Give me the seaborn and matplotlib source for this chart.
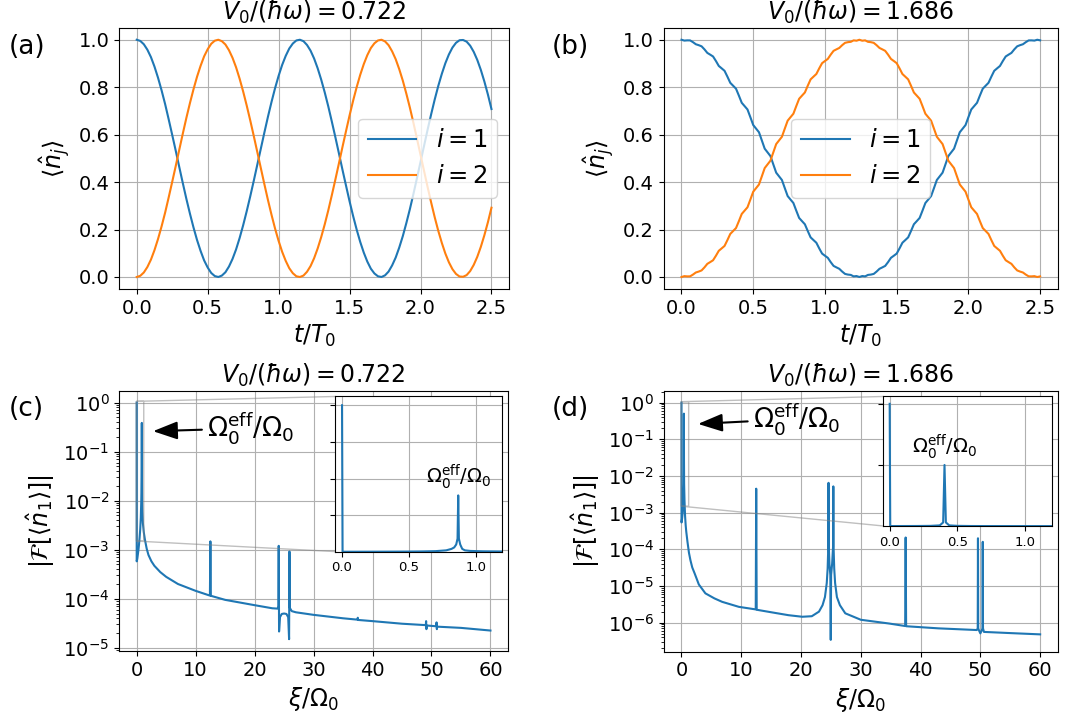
import numpy as np
import matplotlib
matplotlib.use("Agg")
import matplotlib.pyplot as plt
import seaborn as sns
from matplotlib.ticker import LogLocator, NullFormatter

# ---------------- occupations vs time ----------------
t_a = np.linspace(0.0, 2.5, 101)
n1_a = [1.000, 0.995, 0.981, 0.958, 0.927, 0.887, 0.840, 0.787, 0.729, 0.665,
        0.599, 0.532, 0.463, 0.395, 0.329, 0.267, 0.209, 0.156, 0.110, 0.070,
        0.040, 0.017, 0.004, 0.000, 0.006, 0.020, 0.044, 0.076, 0.116, 0.164,
        0.218, 0.277, 0.340, 0.406, 0.474, 0.542, 0.610, 0.676, 0.738, 0.796,
        0.848, 0.894, 0.932, 0.963, 0.984, 0.997, 1.000, 0.994, 0.978, 0.954,
        0.921, 0.880, 0.832, 0.778, 0.719, 0.655, 0.589, 0.521, 0.452, 0.385,
        0.319, 0.257, 0.200, 0.148, 0.103, 0.065, 0.035, 0.015, 0.003, 0.000,
        0.007, 0.023, 0.049, 0.082, 0.124, 0.172, 0.227, 0.286, 0.350, 0.417,
        0.485, 0.553, 0.621, 0.686, 0.748, 0.805, 0.856, 0.901, 0.938, 0.967,
        0.987, 0.998, 0.999, 0.992, 0.975, 0.949, 0.915, 0.873, 0.824, 0.769,
        0.708]
n2_a = [0.000, 0.005, 0.019, 0.042, 0.073, 0.113, 0.160, 0.213, 0.271, 0.335,
        0.401, 0.468, 0.537, 0.605, 0.671, 0.733, 0.791, 0.844, 0.890, 0.930,
        0.960, 0.983, 0.996, 1.000, 0.994, 0.980, 0.956, 0.924, 0.884, 0.836,
        0.782, 0.723, 0.660, 0.594, 0.526, 0.458, 0.390, 0.324, 0.262, 0.204,
        0.152, 0.106, 0.068, 0.037, 0.016, 0.003, 0.000, 0.006, 0.022, 0.046,
        0.079, 0.120, 0.168, 0.222, 0.281, 0.345, 0.411, 0.479, 0.548, 0.615,
        0.681, 0.743, 0.800, 0.852, 0.897, 0.935, 0.965, 0.985, 0.997, 1.000,
        0.993, 0.977, 0.951, 0.918, 0.876, 0.828, 0.773, 0.714, 0.650, 0.583,
        0.515, 0.447, 0.379, 0.314, 0.252, 0.195, 0.144, 0.099, 0.062, 0.033,
        0.013, 0.002, 0.001, 0.008, 0.025, 0.051, 0.085, 0.127, 0.176, 0.231,
        0.292]

t_b = np.linspace(0.0, 2.5, 126)
n1_b = [1.0000, 0.9964, 0.9974, 0.9972, 0.9898, 0.9810, 0.9771, 0.9723, 0.9595, 0.9446,
        0.9372, 0.9295, 0.9104, 0.8895, 0.8794, 0.8691, 0.8445, 0.8184, 0.8061, 0.7937,
        0.7646, 0.7342, 0.7202, 0.7061, 0.6737, 0.6405, 0.6253, 0.6102, 0.5757, 0.5409,
        0.5253, 0.5097, 0.4747, 0.4398, 0.4243, 0.4089, 0.3747, 0.3411, 0.3264, 0.3118,
        0.2798, 0.2489, 0.2355, 0.2223, 0.1940, 0.1670, 0.1556, 0.1444, 0.1207, 0.0987,
        0.0896, 0.0808, 0.0628, 0.0468, 0.0405, 0.0345, 0.0229, 0.0130, 0.0102, 0.0088,
        0.0026, 0.0040, 0.0000, 0.0040, 0.0026, 0.0088, 0.0102, 0.0130, 0.0229, 0.0345,
        0.0405, 0.0468, 0.0628, 0.0808, 0.0896, 0.0987, 0.1207, 0.1444, 0.1556, 0.1670,
        0.1940, 0.2223, 0.2355, 0.2489, 0.2798, 0.3118, 0.3264, 0.3411, 0.3747, 0.4089,
        0.4243, 0.4398, 0.4747, 0.5097, 0.5253, 0.5409, 0.5757, 0.6102, 0.6253, 0.6405,
        0.6737, 0.7061, 0.7202, 0.7342, 0.7646, 0.7937, 0.8061, 0.8184, 0.8445, 0.8691,
        0.8794, 0.8895, 0.9104, 0.9295, 0.9372, 0.9446, 0.9595, 0.9723, 0.9771, 0.9810,
        0.9898, 0.9972, 0.9974, 0.9964, 1.0000, 0.9975]
n2_b = [0.0000, 0.0036, 0.0026, 0.0028, 0.0102, 0.0190, 0.0229, 0.0277, 0.0405, 0.0554,
        0.0628, 0.0705, 0.0896, 0.1105, 0.1206, 0.1309, 0.1555, 0.1816, 0.1939, 0.2063,
        0.2354, 0.2658, 0.2798, 0.2939, 0.3263, 0.3595, 0.3747, 0.3898, 0.4243, 0.4591,
        0.4747, 0.4903, 0.5253, 0.5602, 0.5757, 0.5911, 0.6253, 0.6589, 0.6736, 0.6882,
        0.7202, 0.7511, 0.7645, 0.7777, 0.8060, 0.8330, 0.8444, 0.8556, 0.8793, 0.9013,
        0.9104, 0.9192, 0.9372, 0.9532, 0.9595, 0.9655, 0.9771, 0.9870, 0.9898, 0.9912,
        0.9974, 0.9960, 1.0000, 0.9960, 0.9974, 0.9912, 0.9898, 0.9870, 0.9771, 0.9655,
        0.9595, 0.9532, 0.9372, 0.9192, 0.9104, 0.9013, 0.8793, 0.8556, 0.8444, 0.8330,
        0.8060, 0.7777, 0.7645, 0.7511, 0.7202, 0.6882, 0.6736, 0.6589, 0.6253, 0.5911,
        0.5757, 0.5602, 0.5253, 0.4903, 0.4747, 0.4591, 0.4243, 0.3898, 0.3747, 0.3595,
        0.3263, 0.2939, 0.2798, 0.2658, 0.2354, 0.2063, 0.1939, 0.1816, 0.1555, 0.1309,
        0.1206, 0.1105, 0.0896, 0.0705, 0.0628, 0.0554, 0.0405, 0.0277, 0.0229, 0.0190,
        0.0102, 0.0028, 0.0026, 0.0036, 0.0000, 0.0025]

# ---------------- spectra |F[<n_1>]| ----------------
xi_c = [0.0, 0.004, 0.1, 0.2, 0.3, 0.4, 0.5, 0.6, 0.7, 0.78,
        0.82, 0.84, 0.855, 0.865, 0.87, 0.875, 0.885, 0.9, 0.92, 0.96,
        1.05, 1.2, 1.4, 1.7, 2.0, 2.5, 3.0, 4.0, 5.0, 7.0,
        10.0, 12.42, 12.5, 12.58, 15.0, 20.0, 23.0, 23.9, 24.03, 24.09,
        24.15, 24.3, 24.6, 25.0, 25.4, 25.7, 25.85, 25.91, 25.98, 26.3,
        27.0, 30.0, 35.0, 37.45, 37.5, 37.55, 40.0, 45.0, 49.03, 49.09,
        49.14, 49.2, 50.8, 50.86, 50.91, 50.97, 55.0, 60.0]
amp_c = [1.0, 5.8e-4, 6.5e-4, 8.0e-4, 1.0e-3, 1.3e-3, 1.8e-3, 2.6e-3, 4.5e-3, 1.0e-2,
         2.0e-2, 3.0e-2, 5.0e-2, 9.0e-2, 0.385, 9.0e-2, 5.0e-2, 2.0e-2, 1.0e-2, 6.0e-3,
         3.5e-3, 2.3e-3, 1.6e-3, 1.05e-3, 7.8e-4, 5.8e-4, 4.7e-4, 3.5e-4, 2.8e-4, 2.0e-4,
         1.45e-4, 1.16e-4, 1.48e-3, 1.15e-4, 9.5e-5, 7.4e-5, 6.4e-5, 6.3e-5, 7.0e-5, 1.2e-3,
         2.15e-5, 4.2e-5, 4.9e-5, 5.0e-5, 4.9e-5, 4.2e-5, 1.5e-5, 9.2e-4, 6.5e-5, 5.6e-5,
         5.3e-5, 4.7e-5, 4.0e-5, 3.75e-5, 4.1e-5, 3.7e-5, 3.5e-5, 3.1e-5, 2.9e-5, 3.5e-5,
         2.4e-5, 2.85e-5, 2.75e-5, 3.3e-5, 2.4e-5, 2.7e-5, 2.55e-5, 2.25e-5]

xi_d = [0.0, 0.004, 0.1, 0.2, 0.3, 0.37, 0.395, 0.405, 0.415, 0.44,
        0.5, 0.6, 0.7, 0.8, 1.0, 1.25, 1.5, 1.8, 2.2, 2.9,
        4.0, 5.5, 6.8, 9.6, 12.42, 12.5, 12.58, 15.2, 17.9, 20.2,
        21.8, 23.0, 23.6, 24.0, 24.3, 24.45, 24.56, 24.6, 24.64, 24.75,
        24.9, 24.97, 25.03, 25.2, 25.36, 25.4, 25.44, 25.55, 25.7, 26.0,
        26.5, 27.4, 30.0, 34.7, 37.42, 37.5, 37.58, 43.0, 49.4, 49.56,
        49.6, 49.64, 49.8, 50.0, 50.2, 50.36, 50.4, 50.44, 50.6, 55.0,
        60.0]
amp_d = [1.0, 5.4e-4, 7.0e-4, 1.0e-3, 2.0e-3, 6.0e-3, 3.0e-2, 0.5, 3.0e-2, 6.0e-3,
         2.2e-3, 8.0e-4, 4.5e-4, 3.0e-4, 1.6e-4, 8.0e-5, 5.0e-5, 3.2e-5, 2.2e-5, 1.1e-5,
         6.3e-6, 4.6e-6, 3.7e-6, 2.7e-6, 2.3e-6, 4.5e-3, 2.25e-6, 1.9e-6, 1.6e-6, 1.45e-6,
         1.5e-6, 2.0e-6, 3.0e-6, 5.0e-6, 1.2e-5, 3.0e-5, 1.2e-4, 6.5e-3, 1.2e-4, 4.0e-5,
         2.0e-5, 3.4e-7, 2.0e-5, 4.0e-5, 1.2e-4, 5.2e-3, 1.2e-4, 3.0e-5, 1.2e-5, 5.0e-6,
         3.0e-6, 1.8e-6, 1.2e-6, 9.5e-7, 8.1e-7, 2.1e-4, 8.0e-7, 7.0e-7, 6.3e-7, 7.0e-7,
         2.0e-4, 7.0e-7, 6.0e-7, 5.1e-7, 6.0e-7, 7.0e-7, 1.6e-4, 7.0e-7, 5.6e-7, 5.2e-7,
         4.8e-7]

# effective tunnelling frequencies and their peak heights
omega_eff = [0.87, 0.405]
omega_eff_amp = [0.385, 0.5]

titles = [r"$V_0/(\hbar\omega) = 0.722$", r"$V_0/(\hbar\omega) = 1.686$"]
series_labels = [r"$i = 1$", r"$i = 2$"]
panel_labels = ["(a)", "(b)", "(c)", "(d)"]

plt.rcParams.update({
    "font.family": ["DejaVu Sans"],
    "mathtext.fontset": "dejavusans",
    "xtick.labelsize": 14,
    "ytick.labelsize": 14,
    "axes.labelsize": 17,
    "axes.titlesize": 17,
})

fig = plt.figure(figsize=(10.72, 7.15), dpi=100)
ax_a = fig.add_axes([0.111, 0.596, 0.364, 0.365])
ax_b = fig.add_axes([0.619, 0.596, 0.368, 0.365])
ax_c = fig.add_axes([0.111, 0.0895, 0.363, 0.364])
ax_d = fig.add_axes([0.619, 0.0885, 0.368, 0.365])

blue, orange = "#1f77b4", "#ff7f0e"

# time traces
for ax, t, n1, n2, title, loc in [(ax_a, t_a, n1_a, n2_a, titles[0], "center right"),
                                  (ax_b, t_b, n1_b, n2_b, titles[1], "center")]:
    sns.lineplot(x=t, y=n1, ax=ax, color=blue, lw=1.5, label=series_labels[0],
                 estimator=None, sort=False)
    sns.lineplot(x=t, y=n2, ax=ax, color=orange, lw=1.5, label=series_labels[1],
                 estimator=None, sort=False)
    ax.set_xlabel(r"$t/T_0$")
    ax.set_ylabel(r"$\langle \hat{n}_j \rangle$")
    ax.set_title(title)
    ax.set_xticks([0.0, 0.5, 1.0, 1.5, 2.0, 2.5])
    ax.grid(True, color="#b0b0b0", lw=0.8)
    ax.legend(loc=loc, fontsize=17.5)

# spectra with linear zoom insets
inset_boxes = [[0.556, 0.382, 0.429, 0.596], [0.556, 0.482, 0.429, 0.496]]
arrow_tips = [(2.3, 0.26), (2.3, 0.26)]
text_spots = [(12.0, 0.30), (12.0, 0.36)]
for k, (ax, xi, amp) in enumerate([(ax_c, xi_c, amp_c), (ax_d, xi_d, amp_d)]):
    sns.lineplot(x=xi, y=amp, ax=ax, color=blue, lw=1.5, estimator=None, sort=False)
    ax.set_yscale("log")
    ax.yaxis.set_major_locator(LogLocator(base=10, numticks=30))
    ax.yaxis.set_minor_locator(LogLocator(base=10, subs=np.arange(2, 10) * 0.1, numticks=30))
    ax.yaxis.set_minor_formatter(NullFormatter())
    ax.set_xticks([0, 10, 20, 30, 40, 50, 60])
    ax.set_xlabel(r"$\xi/\Omega_0$")
    ax.set_ylabel(r"$|\mathcal{F}[\langle \hat{n}_1 \rangle]|$")
    ax.set_title(titles[k])
    ax.grid(True, color="#b0b0b0", lw=0.8)

    axins = ax.inset_axes(inset_boxes[k])
    sns.lineplot(x=xi, y=amp, ax=axins, color=blue, lw=1.5, estimator=None, sort=False)
    axins.set_xlim(-0.05, 1.2)
    axins.set_ylim(1.5e-3, 1.06)
    axins.set_xticks([0.0, 0.5, 1.0])
    axins.set_yticklabels([])
    axins.set_xlabel("")
    axins.set_ylabel("")
    axins.tick_params(labelsize=9.5)
    axins.grid(True, color="#b0b0b0", lw=0.8)
    ax.indicate_inset_zoom(axins)

    axins.text(omega_eff[k], omega_eff_amp[k] + 0.03, r"$\Omega_0^{\rm eff}/\Omega_0$",
               ha="center", va="bottom", fontsize=14)
    ax.annotate(r"$\Omega_0^{\rm eff}/\Omega_0$", xy=arrow_tips[k], xytext=text_spots[k],
                ha="left", va="center", fontsize=19,
                arrowprops=dict(arrowstyle="-|>,head_length=0.6,head_width=0.22",
                                color="black", lw=1.5, mutation_scale=25))

letter_pos = [(0.008, 0.934), (0.515, 0.934), (0.008, 0.428), (0.515, 0.428)]
for (x, y), lab in zip(letter_pos, panel_labels):
    fig.text(x, y, lab, fontsize=19, ha="left", va="center")

fig.savefig("out.png", dpi=100)
